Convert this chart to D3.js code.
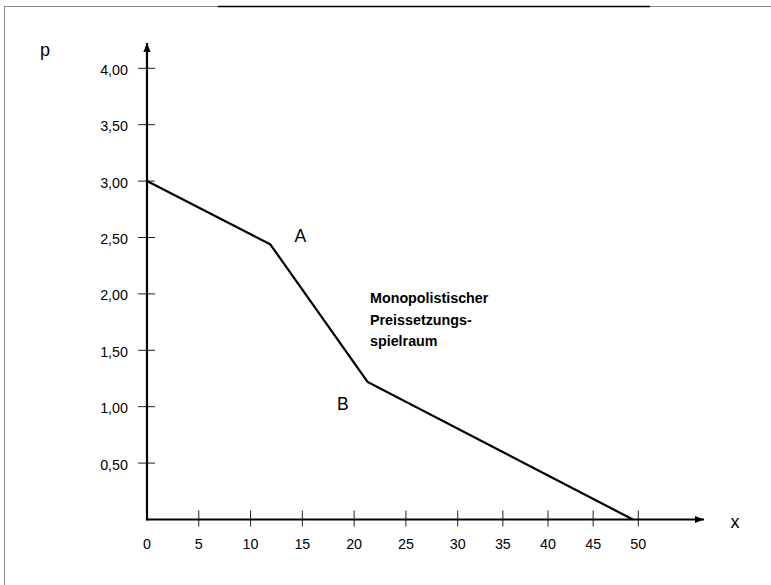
<!DOCTYPE html>
<html><head><meta charset="utf-8">
<script src="https://cdn.jsdelivr.net/npm/d3@7"></script>
<style>
html,body{margin:0;padding:0;background:#fff;}
svg{display:block;font-family:"Liberation Sans",Arial,sans-serif;}
</style></head>
<body>
<svg id="chart" width="771" height="585"></svg>
<script>
// Data
const xTicks = [0, 5, 10, 15, 20, 25, 30, 35, 40, 45, 50];
const yTicks = [0.5, 1.0, 1.5, 2.0, 2.5, 3.0, 3.5, 4.0];
const curveX = [0, 11.9, 21.3, 49.4];
const curveP = [3.0, 2.44, 1.22, 0.0];
const pointLabels = ["A", "B"];
const pointLabelX = [14.8, 18.9];
const pointLabelP = [2.47, 0.98];
const noteLines = ["Monopolistischer", "Preissetzungs-", "spielraum"];
const axisNames = ["x", "p"];

const svg = d3.select("#chart");
const locale = d3.formatLocale({decimal: ",", thousands: ".", grouping: [3], currency: ["", "€"]});
const fmtY = locale.format(".2f");

// Scales (x axis in the original is slightly uneven: wider spacing up to 30)
const x = d3.scaleLinear().domain([0, 30, 50]).range([147, 457.7, 638.3]);
const y = d3.scaleLinear().domain([0, 4]).range([519.5, 68.3]);

// Frame
svg.append("line").attr("x1", 4.5).attr("x2", 4.5).attr("y1", 6).attr("y2", 585)
  .attr("stroke", "#8a8a8a").attr("stroke-width", 1);
svg.append("line").attr("x1", 4).attr("x2", 771).attr("y1", 6.5).attr("y2", 6.5)
  .attr("stroke", "#8a8a8a").attr("stroke-width", 1);
svg.append("line").attr("x1", 218).attr("x2", 650).attr("y1", 6.5).attr("y2", 6.5)
  .attr("stroke", "#000").attr("stroke-width", 1.5);

// Arrow marker
const defs = svg.append("defs");
defs.append("marker").attr("id", "arr").attr("viewBox", "0 0 10 10")
  .attr("refX", 10).attr("refY", 5).attr("markerWidth", 9).attr("markerHeight", 9)
  .attr("markerUnits", "userSpaceOnUse").attr("orient", "auto")
  .append("path").attr("d", "M0,1 L10,5 L0,9 Z").attr("fill", "#000");

// X axis ticks (crossing)
svg.append("g").selectAll("line").data(xTicks.slice(1)).join("line")
  .attr("x1", d => x(d)).attr("x2", d => x(d))
  .attr("y1", y(0) - 9).attr("y2", y(0) + 7)
  .attr("stroke", "#222").attr("stroke-width", 1);
svg.append("g").selectAll("text").data(xTicks).join("text")
  .attr("x", d => x(d)).attr("y", 548.5)
  .attr("text-anchor", "middle").attr("font-size", 14.3).attr("fill", "#000")
  .text(d => d);

// Y axis ticks
svg.append("g").selectAll("line").data(yTicks).join("line")
  .attr("x1", x(0) - 9).attr("x2", x(0) + 8)
  .attr("y1", d => y(d)).attr("y2", d => y(d))
  .attr("stroke", "#222").attr("stroke-width", 1);
svg.append("g").selectAll("text").data(yTicks).join("text")
  .attr("x", 128).attr("y", d => y(d) + 6.5)
  .attr("text-anchor", "end").attr("font-size", 14.3).attr("fill", "#000")
  .text(d => fmtY(d));

// Axes lines with arrows
svg.append("line").attr("x1", x(0)).attr("x2", 704).attr("y1", y(0)).attr("y2", y(0))
  .attr("stroke", "#000").attr("stroke-width", 2.2).attr("marker-end", "url(#arr)");
svg.append("line").attr("x1", x(0)).attr("x2", x(0)).attr("y1", y(0) + 1).attr("y2", 43)
  .attr("stroke", "#000").attr("stroke-width", 2.2).attr("marker-end", "url(#arr)");

// Axis names
svg.append("text").attr("x", 735).attr("y", 528).attr("text-anchor", "middle")
  .attr("font-size", 18).text(axisNames[0]);
svg.append("text").attr("x", 45).attr("y", 56).attr("text-anchor", "middle")
  .attr("font-size", 18).text(axisNames[1]);

// Curve
const pts = curveX.map((d, i) => [x(d), y(curveP[i])]);
svg.append("path").attr("d", d3.line()(pts))
  .attr("fill", "none").attr("stroke", "#000").attr("stroke-width", 2.2)
  .attr("stroke-linejoin", "miter");

// Point labels
svg.append("g").selectAll("text").data(pointLabels).join("text")
  .attr("x", (d, i) => x(pointLabelX[i])).attr("y", (d, i) => y(pointLabelP[i]) + 1)
  .attr("text-anchor", "middle").attr("font-size", 17.5).text(d => d);

// Note
svg.append("g").selectAll("text").data(noteLines).join("text")
  .attr("x", 370).attr("y", (d, i) => 303 + i * 21.5)
  .attr("font-size", 14.3).attr("font-weight", "bold").text(d => d);
</script>
</body></html>
